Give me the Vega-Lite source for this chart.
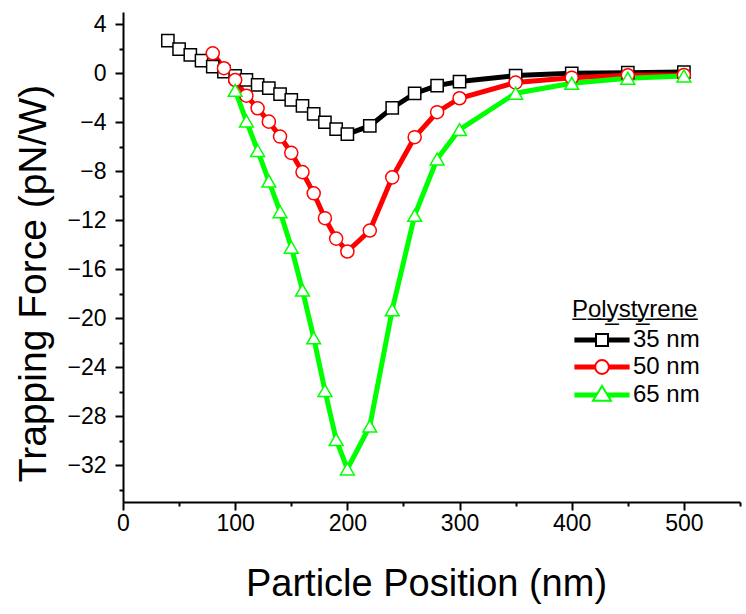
{
  "$schema": "https://vega.github.io/schema/vega-lite/v6.json",
  "width": 617,
  "height": 490,
  "autosize": {"type": "none"},
  "padding": {"left": 123, "top": 12, "right": 6, "bottom": 112},
  "background": "white",
  "config": {
    "view": {"stroke": null},
    "font": "Liberation Sans"
  },
  "data": {
    "values": [
      {"series": "35 nm", "x": 40, "y": 2.66},
      {"series": "35 nm", "x": 50, "y": 1.96},
      {"series": "35 nm", "x": 60, "y": 1.49},
      {"series": "35 nm", "x": 70, "y": 1.03},
      {"series": "35 nm", "x": 80, "y": 0.54},
      {"series": "35 nm", "x": 90, "y": 0.13},
      {"series": "35 nm", "x": 100, "y": -0.22},
      {"series": "35 nm", "x": 110, "y": -0.55},
      {"series": "35 nm", "x": 120, "y": -0.95},
      {"series": "35 nm", "x": 130, "y": -1.22},
      {"series": "35 nm", "x": 140, "y": -1.71},
      {"series": "35 nm", "x": 150, "y": -2.18},
      {"series": "35 nm", "x": 160, "y": -2.67},
      {"series": "35 nm", "x": 170, "y": -3.32},
      {"series": "35 nm", "x": 180, "y": -4.0},
      {"series": "35 nm", "x": 190, "y": -4.57},
      {"series": "35 nm", "x": 200, "y": -4.97},
      {"series": "35 nm", "x": 220, "y": -4.3},
      {"series": "35 nm", "x": 240, "y": -2.83},
      {"series": "35 nm", "x": 260, "y": -1.65},
      {"series": "35 nm", "x": 280, "y": -1.01},
      {"series": "35 nm", "x": 300, "y": -0.68},
      {"series": "35 nm", "x": 350, "y": -0.19},
      {"series": "35 nm", "x": 400, "y": 0.0},
      {"series": "35 nm", "x": 450, "y": 0.05},
      {"series": "35 nm", "x": 500, "y": 0.1},
      {"series": "50 nm", "x": 80, "y": 1.63},
      {"series": "50 nm", "x": 90, "y": 0.41},
      {"series": "50 nm", "x": 100, "y": -0.55},
      {"series": "50 nm", "x": 110, "y": -1.83},
      {"series": "50 nm", "x": 120, "y": -2.86},
      {"series": "50 nm", "x": 130, "y": -3.95},
      {"series": "50 nm", "x": 140, "y": -5.17},
      {"series": "50 nm", "x": 150, "y": -6.5},
      {"series": "50 nm", "x": 160, "y": -8.07},
      {"series": "50 nm", "x": 170, "y": -9.8},
      {"series": "50 nm", "x": 180, "y": -11.83},
      {"series": "50 nm", "x": 190, "y": -13.5},
      {"series": "50 nm", "x": 200, "y": -14.55},
      {"series": "50 nm", "x": 220, "y": -12.84},
      {"series": "50 nm", "x": 240, "y": -8.5},
      {"series": "50 nm", "x": 260, "y": -5.22},
      {"series": "50 nm", "x": 280, "y": -3.18},
      {"series": "50 nm", "x": 300, "y": -2.04},
      {"series": "50 nm", "x": 350, "y": -0.76},
      {"series": "50 nm", "x": 400, "y": -0.36},
      {"series": "50 nm", "x": 450, "y": -0.16},
      {"series": "50 nm", "x": 500, "y": -0.14},
      {"series": "65 nm", "x": 100, "y": -1.4},
      {"series": "65 nm", "x": 110, "y": -3.9},
      {"series": "65 nm", "x": 120, "y": -6.3},
      {"series": "65 nm", "x": 130, "y": -8.8},
      {"series": "65 nm", "x": 140, "y": -11.3},
      {"series": "65 nm", "x": 150, "y": -14.2},
      {"series": "65 nm", "x": 160, "y": -17.7},
      {"series": "65 nm", "x": 170, "y": -21.6},
      {"series": "65 nm", "x": 180, "y": -25.9},
      {"series": "65 nm", "x": 190, "y": -29.9},
      {"series": "65 nm", "x": 200, "y": -32.3},
      {"series": "65 nm", "x": 220, "y": -28.8},
      {"series": "65 nm", "x": 240, "y": -19.3},
      {"series": "65 nm", "x": 260, "y": -11.6},
      {"series": "65 nm", "x": 280, "y": -7.0},
      {"series": "65 nm", "x": 300, "y": -4.6},
      {"series": "65 nm", "x": 350, "y": -1.63},
      {"series": "65 nm", "x": 400, "y": -0.82},
      {"series": "65 nm", "x": 450, "y": -0.41},
      {"series": "65 nm", "x": 500, "y": -0.22}
    ]
  },
  "layer": [
    {
      "mark": {"type": "line", "strokeWidth": 5},
      "encoding": {
        "x": {
          "field": "x", "type": "quantitative",
          "scale": {"domain": [0, 550], "nice": false, "zero": false},
          "axis": {
            "orient": "bottom",
            "values": [0, 100, 200, 300, 400, 500],
            "title": "Particle Position (nm)",
            "titleFontSize": 38, "titleFontWeight": "normal", "titleColor": "black",
            "titleBaseline": "alphabetic", "titleY": 93, "titleX": 303,
            "labelFontSize": 23, "labelColor": "black", "labelPadding": 2,
            "labelFlush": false, "labelOverlap": false,
            "tickSize": 8, "tickWidth": 2, "tickColor": "black",
            "domainColor": "black", "domainWidth": 2, "grid": false
          }
        },
        "y": {
          "field": "y", "type": "quantitative",
          "scale": {"domain": [-35, 5], "nice": false, "zero": false},
          "axis": {
            "orient": "left",
            "values": [-32, -28, -24, -20, -16, -12, -8, -4, 0, 4],
            "title": "Trapping Force (pN/W)",
            "titleFontSize": 39, "titleFontWeight": "normal", "titleColor": "black",
            "titleBaseline": "alphabetic", "titleAlign": "center", "titleAngle": -90,
            "titleX": -78, "titleY": 271,
            "labelFontSize": 23, "labelColor": "black", "labelPadding": 9,
            "labelFlush": false, "labelOverlap": false,
            "tickSize": 8, "tickWidth": 2, "tickColor": "black",
            "domainColor": "black", "domainWidth": 2, "grid": false
          }
        },
        "color": {
          "field": "series", "type": "nominal",
          "scale": {"domain": ["35 nm", "50 nm", "65 nm"], "range": ["#000000", "#ff0000", "#00ff00"]},
          "legend": null
        }
      }
    },
    {
      "mark": {"type": "point", "filled": false, "fill": "white", "strokeWidth": 1.5, "opacity": 1},
      "encoding": {
        "x": {
          "field": "x", "type": "quantitative",
          "scale": {"domain": [0, 550], "nice": false, "zero": false},
          "axis": {
            "orient": "bottom",
            "values": [50, 150, 250, 350, 450, 550],
            "labels": false, "domain": false, "title": null, "grid": false,
            "tickSize": 4, "tickWidth": 2, "tickColor": "black"
          }
        },
        "y": {
          "field": "y", "type": "quantitative",
          "scale": {"domain": [-35, 5], "nice": false, "zero": false},
          "axis": {
            "orient": "left",
            "values": [-34, -30, -26, -22, -18, -14, -10, -6, -2, 2],
            "labels": false, "domain": false, "title": null, "grid": false,
            "tickSize": 4, "tickWidth": 2, "tickColor": "black"
          }
        },
        "color": {
          "field": "series", "type": "nominal",
          "scale": {"domain": ["35 nm", "50 nm", "65 nm"], "range": ["#000000", "#ff0000", "#00ff00"]},
          "legend": null
        },
        "shape": {
          "field": "series", "type": "nominal",
          "scale": {"domain": ["35 nm", "50 nm", "65 nm"], "range": ["square", "circle", "triangle-up"]},
          "legend": null
        },
        "size": {
          "field": "series", "type": "nominal",
          "scale": {"domain": ["35 nm", "50 nm", "65 nm"], "range": [150, 190, 250]},
          "legend": null
        }
      }
    },
    {
      "transform": [{"filter": "false"}],
      "mark": {"type": "point", "filled": false, "fill": "white", "strokeWidth": 2, "opacity": 1},
      "encoding": {
        "shape": {
          "field": "series", "type": "nominal",
          "scale": {
            "domain": ["35 nm", "50 nm", "65 nm"],
            "range": [
              "M-4.6,-0.25H-1M-4.6,0H-1M-4.6,0.25H-1M1,-0.25H4.6M1,0H4.6M1,0.25H4.6M-1,-1H1V1H-1Z",
              "M-4.6,-0.25H-1.15M-4.6,0H-1.15M-4.6,0.25H-1.15M1.15,-0.25H4.6M1.15,0H4.6M1.15,0.25H4.6M1.15,0A1.15,1.15,0,1,1,-1.15,0A1.15,1.15,0,1,1,1.15,0Z",
              "M-4.6,-0.25H-0.85M-4.6,0H-0.92M-4.6,0.25H-1.05M0.85,-0.25H4.6M0.92,0H4.6M1.05,0.25H4.6M0,-1.5L1.5,0.95H-1.5Z"
            ]
          },
          "legend": {
            "title": "P\u0332o\u0332l\u0332y\u0332s\u0332t\u0332y\u0332r\u0332e\u0332n\u0332e\u0332",
            "orient": "none", "legendX": 449, "legendY": 286,
            "titleFontSize": 24, "titleFontWeight": "normal", "titleColor": "black",
            "labelFontSize": 24, "labelColor": "black",
            "symbolSize": 144, "symbolStrokeWidth": 2, "symbolFillColor": "white", "symbolOpacity": 1,
            "symbolOffset": 18, "labelOffset": 19, "rowPadding": 3, "titlePadding": 6, "padding": 0
          }
        },
        "stroke": {
          "field": "series", "type": "nominal",
          "scale": {"domain": ["35 nm", "50 nm", "65 nm"], "range": ["#000000", "#ff0000", "#00ff00"]},
          "legend": {
            "title": "P\u0332o\u0332l\u0332y\u0332s\u0332t\u0332y\u0332r\u0332e\u0332n\u0332e\u0332",
            "orient": "none", "legendX": 449, "legendY": 286,
            "titleFontSize": 24, "titleFontWeight": "normal", "titleColor": "black",
            "labelFontSize": 24, "labelColor": "black",
            "symbolSize": 144, "symbolStrokeWidth": 2, "symbolFillColor": "white", "symbolOpacity": 1,
            "symbolOffset": 18, "labelOffset": 19, "rowPadding": 3, "titlePadding": 6, "padding": 0
          }
        }
      }
    }
  ],
  "resolve": {
    "axis": {"x": "independent", "y": "independent"},
    "scale": {"shape": "independent", "stroke": "independent"},
    "legend": {"shape": "independent", "stroke": "independent"}
  }
}
